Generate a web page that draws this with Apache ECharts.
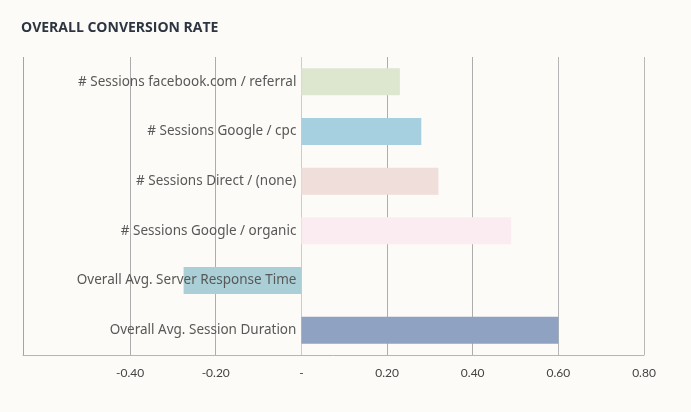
<!DOCTYPE html>
<html>
<head>
<meta charset="utf-8">
<script src="https://cdn.jsdelivr.net/npm/echarts@6/dist/echarts.min.js"></script>
<style>
html,body{margin:0;padding:0;background:#fcfbf8;}
#chart{width:691px;height:412px;}
</style>
</head>
<body>
<div id="chart"></div>
<script>
const title = 'OVERALL CONVERSION RATE';
const categories = [
  '# Sessions facebook.com / referral',
  '# Sessions Google / cpc',
  '# Sessions Direct / (none)',
  '# Sessions Google / organic',
  'Overall Avg. Server Response Time',
  'Overall Avg. Session Duration'
];
const values = [0.23, 0.28, 0.32, 0.49, -0.275, 0.60];
const barColors = ['#dde6cf', '#a6d0e0', '#efdeda', '#fbecf1', '#aacfd6', '#8fa2c1'];
const xMin = -0.65, xMax = 0.8;
const xLabelTicks = [-0.4, -0.2, 0, 0.2, 0.4, 0.6, 0.8];
const xLineTicks = [xMin].concat(xLabelTicks);
const gridLineColors = ['#a4a4a4', '#adadad', '#adadad', '#cccccc', '#adadad', '#adadad', '#b5b5b5', '#b8b8b8'];

const catLabelStyle = { show: true, formatter: '{b}', distance: 5, fontFamily: 'Noto Sans', fontSize: 13.5, color: '#585858' };

const chart = echarts.init(document.getElementById('chart'));
chart.setOption({
  backgroundColor: '#fcfbf8',
  animation: false,
  title: {
    text: title, left: 16, top: 16,
    textStyle: { fontFamily: 'Open Sans', fontWeight: 'bold', fontSize: 14, color: '#2d3541' }
  },
  grid: { left: 23, right: 47, top: 57, bottom: 57, containLabel: false, outerBoundsMode: 'none' },
  xAxis: {
    type: 'value', min: xMin, max: xMax,
    axisLine: { show: true, lineStyle: { color: '#b5b5b5', width: 1 } },
    axisTick: { show: false, customValues: xLineTicks },
    splitLine: { show: true, lineStyle: { color: gridLineColors, width: 1 } },
    axisLabel: {
      customValues: xLabelTicks, margin: 12,
      fontFamily: 'Lato', fontSize: 12, color: '#444',
      formatter: v => (Math.abs(v) < 1e-9 ? '-' : v.toFixed(2))
    }
  },
  yAxis: {
    type: 'category', data: categories, inverse: true,
    axisLine: { show: false }, axisTick: { show: false }, splitLine: { show: false },
    axisLabel: { show: false }
  },
  series: [{
    type: 'bar', barWidth: 27,
    data: values.map((v, i) => ({
      value: v,
      itemStyle: { color: barColors[i] },
      label: Object.assign({}, catLabelStyle, { position: v < 0 ? 'insideRight' : 'left' })
    }))
  }]
});
</script>
</body>
</html>
